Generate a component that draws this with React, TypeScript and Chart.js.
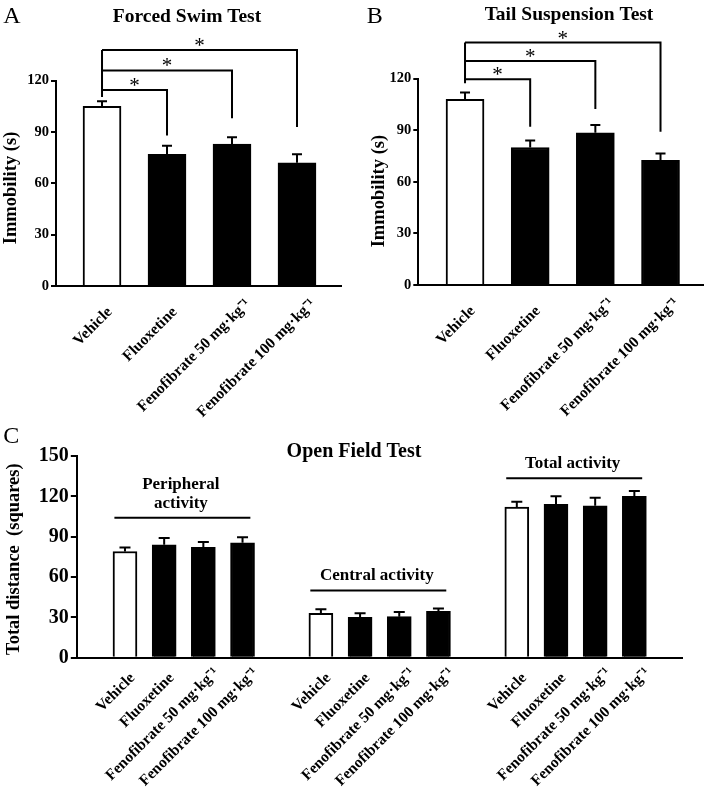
import React, { useEffect, useRef } from "react";
import { Chart, registerables } from "chart.js";

Chart.register(...registerables);

// ---------- data ----------
const categories = ["Vehicle", "Fluoxetine", "Fenofibrate 50 mg·kg⁻¹", "Fenofibrate 100 mg·kg⁻¹"];
const barFill = ["#ffffff", "#000000", "#000000", "#000000"];

// Forced swim test: immobility (s), mean and SEM
const fstMean = [105, 77, 83, 72];
const fstSem = [3, 5, 4, 5];
// significance brackets (vs Vehicle): target bar, bracket height, end of drop line
const fstSigTarget = [1, 2, 3];
const fstSigLevel = [114.5, 126, 138];
const fstSigEnd = [88, 98, 93];
const fstSigStart = 110.5;

// Tail suspension test
const tstMean = [108, 80, 88.5, 72.5];
const tstSem = [4, 4, 4.5, 4];
const tstSigTarget = [1, 2, 3];
const tstSigLevel = [119.7, 130.3, 141];
const tstSigEnd = [92, 102.4, 89.2];
const tstSigStart = 117.3;

const immobilityTicks = [0, 30, 60, 90, 120];

// Open field test: total distance (squares)
const oftGroupNames = [["Peripheral", "activity"], ["Central activity"], ["Total activity"]];
const oftGroupLine = [104, 50, 133.5];
const peripheralMean = [79, 84, 82, 85.5];
const peripheralSem = [3, 5, 4, 4];
const centralMean = [33, 30, 30.5, 34.5];
const centralSem = [3, 3, 3.5, 2];
const totalMean = [112, 114, 113, 120];
const totalSem = [4, 6, 6, 4];
const distanceTicks = [0, 30, 60, 90, 120, 150];

// ---------- helpers ----------
const SERIF = '"Liberation Serif", "Times New Roman", serif';
const BLACK = "#000000";

function errorBarPlugin(capHalf: number) {
  return {
    id: "errorBars",
    afterDatasetsDraw(chart: any) {
      const ctx = chart.ctx;
      const ys = chart.scales.y;
      chart.data.datasets.forEach((ds: any, di: number) => {
        const meta = chart.getDatasetMeta(di);
        meta.data.forEach((bar: any, i: number) => {
          const v = ds.data[i].y;
          const e = ds.errors[i];
          const yt = ys.getPixelForValue(v);
          const ye = ys.getPixelForValue(v + e);
          ctx.save();
          ctx.strokeStyle = BLACK;
          ctx.lineWidth = 2;
          ctx.beginPath();
          ctx.moveTo(bar.x, yt);
          ctx.lineTo(bar.x, ye);
          ctx.moveTo(bar.x - capHalf, ye);
          ctx.lineTo(bar.x + capHalf, ye);
          ctx.stroke();
          ctx.restore();
        });
      });
    },
  };
}

function headerPlugin(letter: string, letterX: number, title: string, titleX: number, titleBase: number, titleSize: number) {
  return {
    id: "header",
    afterDraw(chart: any) {
      const ctx = chart.ctx;
      ctx.save();
      ctx.fillStyle = BLACK;
      ctx.textBaseline = "alphabetic";
      ctx.textAlign = "left";
      ctx.font = `normal 24px ${SERIF}`;
      ctx.fillText(letter, letterX, 23.3);
      ctx.textAlign = "center";
      ctx.font = `bold ${titleSize}px ${SERIF}`;
      ctx.fillText(title, titleX, titleBase);
      ctx.restore();
    },
  };
}

function bracketPlugin(targets: number[], levels: number[], ends: number[], start: number) {
  return {
    id: "brackets",
    afterDraw(chart: any) {
      const ctx = chart.ctx;
      const xs = chart.scales.x;
      const ys = chart.scales.y;
      const x0 = xs.getPixelForValue(0);
      ctx.save();
      ctx.strokeStyle = BLACK;
      ctx.lineWidth = 2;
      ctx.beginPath();
      ctx.moveTo(x0, ys.getPixelForValue(Math.max(...levels)));
      ctx.lineTo(x0, ys.getPixelForValue(start));
      targets.forEach((t, i) => {
        const x1 = xs.getPixelForValue(t);
        const yl = ys.getPixelForValue(levels[i]);
        ctx.moveTo(x0, yl);
        ctx.lineTo(x1, yl);
        ctx.lineTo(x1, ys.getPixelForValue(ends[i]));
      });
      ctx.stroke();
      ctx.fillStyle = BLACK;
      ctx.font = `normal 21px ${SERIF}`;
      ctx.textAlign = "center";
      ctx.textBaseline = "alphabetic";
      targets.forEach((t, i) => {
        const x1 = xs.getPixelForValue(t);
        const yl = ys.getPixelForValue(levels[i]);
        ctx.fillText("*", (x0 + x1) / 2, yl + 2);
      });
      ctx.restore();
    },
  };
}

type Geom = {
  W: number; H: number;
  left: number; right: number; top: number; bottom: number;
  xMin: number; xMax: number;
  yTitlePad: number;
};

type AxisStyle = {
  yMax: number; ticks: number[]; yTitle: string; yTitleSize: number;
  yTickSize: number; tickLen: number; xPositions: number[];
  xLabelPad: number; xLabelOffset: number; plainLabelTail: string;
};

function baseOptions(g: Geom, a: AxisStyle) {
  return {
    responsive: false,
    animation: false,
    devicePixelRatio: 1,
    layout: { padding: { top: g.top, left: 0, right: g.W - g.right, bottom: 0 } },
    plugins: { legend: { display: false }, tooltip: { enabled: false }, title: { display: false } },
    scales: {
      x: {
        type: "linear",
        offset: false,
        min: g.xMin,
        max: g.xMax,
        bounds: "data",
        afterBuildTicks: (s: any) => { s.ticks = a.xPositions.map((v) => ({ value: v })); },
        afterFit: (s: any) => { s.height = g.H - g.bottom; },
        grid: { display: false, drawTicks: false, offset: false },
        border: { display: true, color: BLACK, width: 2 },
        ticks: {
          autoSkip: false,
          minRotation: 45,
          maxRotation: 45,
          padding: a.xLabelPad,
          labelOffset: a.xLabelOffset,
          color: BLACK,
          font: { family: SERIF, weight: "bold", size: 15.5 },
          callback: (v: number) => {
            const label = categories[Math.round(v) % 5];
            return label.endsWith("¹") ? label : label + a.plainLabelTail;
          },
        },
      },
      y: {
        type: "linear",
        min: 0,
        max: a.yMax,
        afterBuildTicks: (s: any) => { s.ticks = a.ticks.map((v) => ({ value: v })); },
        afterFit: (s: any) => { s.width = g.left; },
        grid: { display: true, drawOnChartArea: false, drawTicks: true, tickLength: a.tickLen, color: BLACK, lineWidth: 2 },
        border: { display: true, color: BLACK, width: 2 },
        ticks: {
          padding: 2,
          color: BLACK,
          font: { family: SERIF, weight: "bold", size: a.yTickSize },
        },
        title: {
          display: true,
          text: a.yTitle,
          color: BLACK,
          padding: { top: g.yTitlePad, bottom: 0 },
          font: { family: SERIF, weight: "bold", size: a.yTitleSize },
        },
      },
    },
  };
}

function immobilityConfig(means: number[], sems: number[], g: Geom, titleTail: string, plugins: any[]) {
  return {
    type: "bar",
    data: {
      datasets: [
        {
          data: means.map((m, i) => ({ x: i, y: m })),
          errors: sems,
          backgroundColor: barFill,
          borderColor: BLACK,
          borderWidth: 2,
          barThickness: 38,
          grouped: false,
        },
      ],
    },
    options: baseOptions(g, {
      yMax: 120, ticks: immobilityTicks, yTitle: "Immobility (s)" + titleTail, yTitleSize: 18.5,
      yTickSize: 14.5, tickLen: 5, xPositions: [0, 1, 2, 3], xLabelPad: 9, xLabelOffset: 16, plainLabelTail: "   ",
    }),
    plugins: [errorBarPlugin(5), ...plugins],
  };
}

const gA: Geom = { W: 350, H: 420, left: 56, right: 341, top: 80.7, bottom: 286, xMin: -0.708, xMax: 3.677, yTitlePad: 0 };
const gB: Geom = { W: 359, H: 420, left: 68.3, right: 353, top: 78.7, bottom: 285, xMin: -0.717, xMax: 3.652, yTitlePad: 18 };
const gC: Geom = { W: 709, H: 372, left: 77.3, right: 682, top: 36, bottom: 237.7, xMin: -1.217, xMax: 14.216, yTitlePad: 3.5 };

const groupStarts = [0, 5, 10];

function groupPlugin() {
  return {
    id: "groups",
    afterDraw(chart: any) {
      const ctx = chart.ctx;
      const xs = chart.scales.x;
      const ys = chart.scales.y;
      ctx.save();
      ctx.strokeStyle = BLACK;
      ctx.fillStyle = BLACK;
      ctx.lineWidth = 2;
      ctx.font = `bold 17px ${SERIF}`;
      ctx.textAlign = "center";
      ctx.textBaseline = "middle";
      groupStarts.forEach((s, gi) => {
        const xa = xs.getPixelForValue(s - 0.27);
        const xb = xs.getPixelForValue(s + 3.2);
        const yl = ys.getPixelForValue(oftGroupLine[gi]);
        ctx.beginPath();
        ctx.moveTo(xa, yl);
        ctx.lineTo(xb, yl);
        ctx.stroke();
        const lines = oftGroupNames[gi];
        lines.forEach((t, li) => {
          const fromBottom = lines.length - 1 - li;
          ctx.fillText(t, (xa + xb) / 2 - 1.5, yl - 14.5 - fromBottom * 18.3);
        });
      });
      ctx.restore();
    },
  };
}

function oftConfig() {
  const groups = [
    [peripheralMean, peripheralSem],
    [centralMean, centralSem],
    [totalMean, totalSem],
  ];
  const positions: number[] = [];
  groupStarts.forEach((s) => categories.forEach((_, i) => positions.push(s + i)));
  return {
    type: "bar",
    data: {
      datasets: groups.map(([m, e], gi) => ({
        data: m.map((v, i) => ({ x: groupStarts[gi] + i, y: v })),
        errors: e,
        backgroundColor: barFill,
        borderColor: BLACK,
        borderWidth: 2,
        barThickness: 24,
        grouped: false,
      })),
    },
    options: baseOptions(gC, {
      yMax: 150, ticks: distanceTicks, yTitle: "Total distance  (squares) ", yTitleSize: 18.5,
      yTickSize: 20, tickLen: 6.5, xPositions: positions, xLabelPad: 6, xLabelOffset: 13, plainLabelTail: "  ",
    }),
    plugins: [errorBarPlugin(5.5), groupPlugin(), headerPlugin("C", 3.3, "Open Field Test", 354, 36.7, 20)],
  };
}

function ChartCanvas({ build, left, top, width, height }: { build: () => any; left: number; top: number; width: number; height: number }) {
  const ref = useRef<HTMLCanvasElement>(null);
  useEffect(() => {
    const chart = new Chart(ref.current as HTMLCanvasElement, build());
    return () => chart.destroy();
  }, []);
  return (
    <canvas
      ref={ref}
      width={width}
      height={height}
      style={{ position: "absolute", left, top, width, height, display: "block" }}
    />
  );
}

export default function App() {
  return (
    <div style={{ position: "absolute", left: 0, top: 0, width: 709, height: 792, background: "#fff" }}>
      <ChartCanvas
        left={0}
        top={0}
        width={gA.W}
        height={gA.H}
        build={() =>
          immobilityConfig(fstMean, fstSem, gA, "  ", [
            bracketPlugin(fstSigTarget, fstSigLevel, fstSigEnd, fstSigStart),
            headerPlugin("A", 3.3, "Forced Swim Test", 187, 21.7, 19.5),
          ])
        }
      />
      <ChartCanvas
        left={350}
        top={0}
        width={gB.W}
        height={gB.H}
        build={() =>
          immobilityConfig(tstMean, tstSem, gB, "    ", [
            bracketPlugin(tstSigTarget, tstSigLevel, tstSigEnd, tstSigStart),
            headerPlugin("B", 16.7, "Tail Suspension Test", 219, 20, 19.5),
          ])
        }
      />
      <ChartCanvas left={0} top={420} width={gC.W} height={gC.H} build={oftConfig} />
    </div>
  );
}
